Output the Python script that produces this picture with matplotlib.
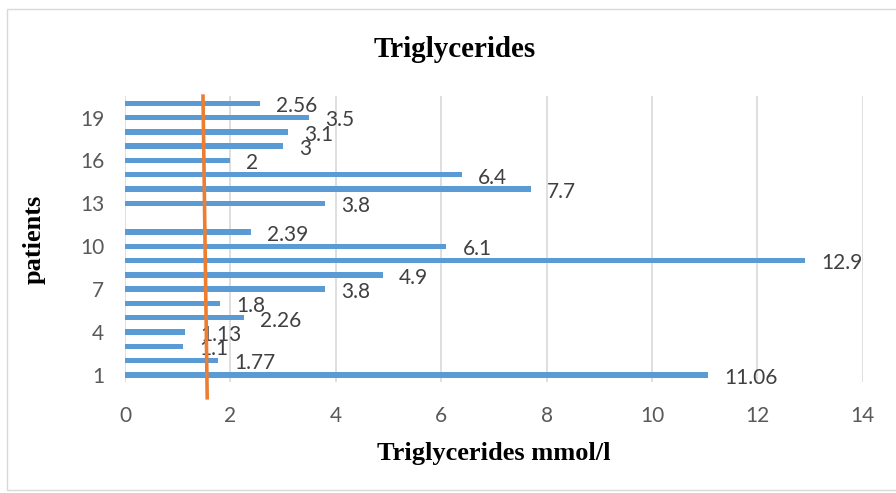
import matplotlib.pyplot as plt
from matplotlib.patches import Rectangle

patients = list(range(1, 21))
# patient 12 has no value in the chart
values = [11.06, 1.77, 1.1, 1.13, 2.26, 1.8, 3.8, 4.9, 12.9, 6.1,
          2.39, None, 3.8, 7.7, 6.4, 2, 3, 3.1, 3.5, 2.56]
labels = ["11.06", "1.77", "1.1", "1.13", "2.26", "1.8", "3.8", "4.9", "12.9", "6.1",
          "2.39", "", "3.8", "7.7", "6.4", "2", "3", "3.1", "3.5", "2.56"]
ref_x = [1.48, 1.56]
ref_y = [20.5, -0.6]

fig = plt.figure(figsize=(8.96, 4.93), dpi=100)
ax = fig.add_axes([0.1395, 0.225, 0.8235, 0.58])

ys = [p for p, v in zip(patients, values) if v is not None]
vs = [v for v in values if v is not None]
ax.barh(ys, vs, height=0.38, color="#5B9BD5", zorder=2)

for p, v, lab in zip(patients, values, labels):
    if v is None:
        continue
    ax.annotate(lab, (v, p), xytext=(11.5, -2), textcoords="offset points",
                va="center", ha="left", fontsize=15, color="#404040", family="Lato")

ax.plot(ref_x, ref_y, color="#ED7D31", lw=2.6, clip_on=False, zorder=3)

ax.set_xlim(0, 14)
ax.set_ylim(0.5, 20.5)
ax.set_xticks(range(0, 15, 2))
ax.set_yticks([1, 4, 7, 10, 13, 16, 19])
ax.grid(axis="x", color="#D9D9D9", lw=1.2, zorder=0)
for s in ax.spines.values():
    s.set_visible(False)
ax.tick_params(length=0, labelsize=15, labelcolor="#595959")
ax.tick_params(axis="x", pad=17)
ax.tick_params(axis="y", pad=15)
for t in ax.get_xticklabels() + ax.get_yticklabels():
    t.set_family("Lato")

ax.set_xlabel("Triglycerides mmol/l", family="Liberation Serif", fontweight="bold",
              fontsize=19)
ax.xaxis.set_label_coords(0.5, -0.21)
ax.set_ylabel("patients", family="Liberation Serif", fontweight="bold", fontsize=19)
ax.yaxis.set_label_coords(-0.108, 0.5)
fig.text(0.508, 0.9, "Triglycerides", family="Liberation Serif", fontweight="bold",
         fontsize=21, ha="center", va="center")

fig.patches.append(Rectangle((0.008, 0.006), 1.1, 0.976, transform=fig.transFigure,
                             fill=False, edgecolor="#D9D9D9", lw=1))

fig.savefig("out.png", dpi=100)
